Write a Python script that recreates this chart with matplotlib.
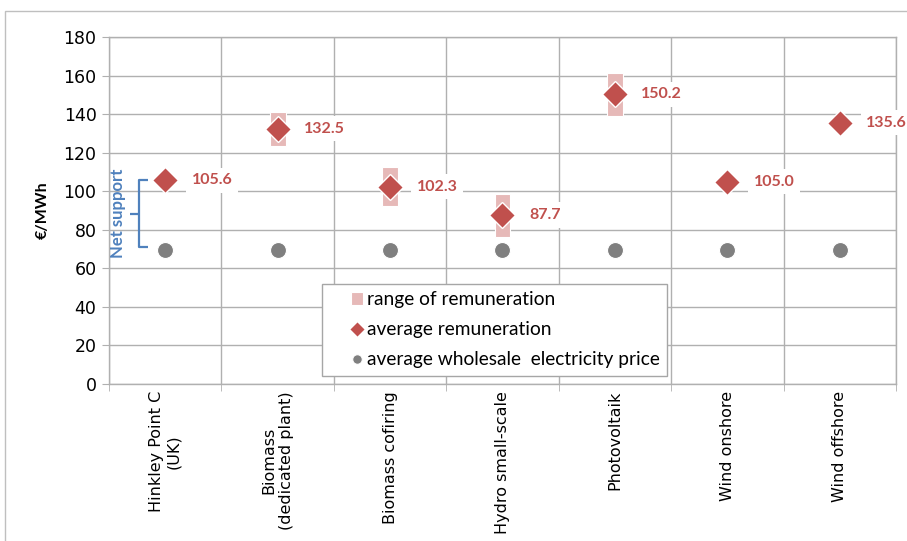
import numpy as np
import matplotlib
matplotlib.use("Agg")
import matplotlib.pyplot as plt
from matplotlib.patches import Rectangle
from matplotlib.container import BarContainer
from matplotlib.legend_handler import HandlerPatch, update_from_first_child

# Data
categories = [
    "Hinkley Point C\n(UK)",
    "Biomass\n(dedicated plant)",
    "Biomass cofiring",
    "Hydro small-scale",
    "Photovoltaik",
    "Wind onshore",
    "Wind offshore",
]
avg_remuneration = [105.6, 132.5, 102.3, 87.7, 150.2, 105.0, 135.6]
range_low = [np.nan, 123.5, 92.5, 76.5, 139.0, np.nan, np.nan]
range_high = [np.nan, 141.0, 112.5, 98.5, 161.5, np.nan, np.nan]
wholesale_price = [69.5] * 7
y_ticks = list(range(0, 181, 20))

DIAMOND = "#c0504d"
RANGE = "#e6b9b8"
DOT = "#7f7f7f"
GRID = "#b0b0b0"
BLUE = "#4f81bd"

fig = plt.figure(figsize=(9.07, 5.41), dpi=100)
ax = fig.add_axes([109 / 907, 1 - 384 / 541, 787 / 907, 347 / 541])

x = np.arange(len(categories))
heights = np.array(range_high) - np.array(range_low)

ax.bar(x, heights, bottom=range_low, width=0.14, color=RANGE,
       edgecolor="white", linewidth=0.8, zorder=3, label="range of remuneration")
ax.plot(x, wholesale_price, linestyle="none", marker="o", markersize=11.5,
        color=DOT, markeredgecolor="white", markeredgewidth=0.8, zorder=4,
        label="average wholesale  electricity price")
ax.plot(x, avg_remuneration, linestyle="none", marker="D", markersize=13,
        color=DIAMOND, markeredgecolor="white", markeredgewidth=1, zorder=5,
        label="average remuneration")

# value labels on white boxes
for xi, v in zip(x, avg_remuneration):
    ax.annotate(f"{v:.1f}", xy=(xi, v), xytext=(19, 0), textcoords="offset points",
                ha="left", va="center", fontsize=11.5, fontweight="bold",
                family="Lato", color=DIAMOND, zorder=6,
                bbox=dict(boxstyle="square,pad=0.35", fc="white", ec="none"))

# "Net support" bracket on Hinkley Point C
top, bot = 105.7, 71.1
mid = (top + bot) / 2
bx = -0.23
ax.plot([bx + 0.08, bx, bx, bx + 0.08], [top, top, bot, bot], color=BLUE,
        linewidth=1.6, zorder=6, solid_capstyle="butt")
ax.plot([bx, bx - 0.08], [mid, mid], color=BLUE, linewidth=1.6, zorder=6,
        solid_capstyle="butt")
ax.text(-0.42, mid, "Net support", rotation=90, ha="center", va="center",
        fontsize=12, fontweight="bold", family="Lato", color=BLUE, zorder=6)

ax.set_xlim(-0.5, len(categories) - 0.5)
ax.set_ylim(0, 180)
ax.set_yticks(y_ticks)
ax.set_yticklabels([str(t) for t in y_ticks], family="Liberation Sans Narrow",
                   fontsize=12.5)
ax.set_ylabel("€/MWh", fontsize=11.5, fontweight="bold", family="Lato", labelpad=10)

ax.set_xticks(x)
ax.set_xticklabels(categories, rotation=90, ha="center", va="top",
                   fontsize=11.5, family="DejaVu Sans", multialignment="center")
ax.set_xticks(np.arange(-0.5, len(categories)), minor=True)
ax.tick_params(axis="x", which="major", length=0, pad=5)
ax.tick_params(axis="x", which="minor", length=5, color=GRID, direction="out")
ax.tick_params(axis="y", length=5, color=GRID, direction="out", pad=4)

ax.yaxis.grid(True, color=GRID, linewidth=1, zorder=0)
ax.xaxis.grid(True, which="minor", color=GRID, linewidth=1, zorder=0)
ax.set_axisbelow(True)
for s in ax.spines.values():
    s.set_color(GRID)
    s.set_linewidth(1)


# small square, centred in the (wide) legend handle box
def square_handle(legend, orig_handle, xdescent, ydescent, width, height, fontsize):
    s = height * 1.0
    return Rectangle((width / 2 - s / 2 - xdescent, height / 2 - s / 2 - ydescent), s, s)


handles, labels = ax.get_legend_handles_labels()
order = [labels.index("range of remuneration"), labels.index("average remuneration"),
         labels.index("average wholesale  electricity price")]
leg = ax.legend([handles[i] for i in order], [labels[i] for i in order],
                loc="lower center", bbox_to_anchor=(0.49, 0.023),
                prop={"family": "Lato", "size": 13.8}, frameon=True, fancybox=False,
                edgecolor="#a6a6a6", framealpha=1, markerscale=0.6,
                handlelength=2.8, handleheight=0.6, handletextpad=-0.88,
                labelspacing=0.68, borderpad=0.4, borderaxespad=0,
                handler_map={BarContainer: HandlerPatch(
                    patch_func=square_handle, update_func=update_from_first_child)})
leg.get_frame().set_linewidth(1)
leg.set_zorder(7)

# outer chart border
fig.patches.append(Rectangle((5 / 907, -0.01), 1.0, 1 - 11 / 541 + 0.01,
                             transform=fig.transFigure, fill=False,
                             edgecolor="#bfbfbf", linewidth=1))

fig.savefig("out.png", dpi=100, facecolor="white")
